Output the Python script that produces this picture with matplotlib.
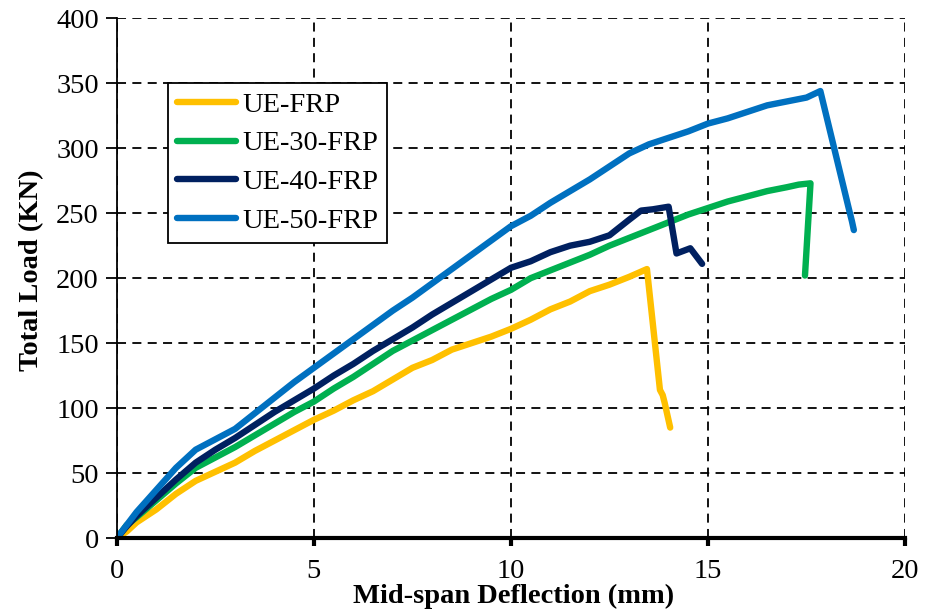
import matplotlib
matplotlib.use("Agg")
import matplotlib.pyplot as plt

# Mid-span deflection (mm) / total load (kN)
ue_frp_x = [0, 0.25, 0.5, 0.75, 1, 1.5, 2, 2.5, 3, 3.5, 4, 4.5, 5, 5.5, 6, 6.5, 7, 7.5, 8, 8.5,
            9, 9.5, 10, 10.5, 11, 11.5, 12, 12.5, 13, 13.3, 13.45, 13.78, 13.85, 13.9, 14.04]
ue_frp_y = [0, 5, 12, 17, 22, 34, 44, 51, 58, 67, 75, 83, 91, 98, 106, 113, 122, 131, 137, 145,
            150, 155, 161, 168, 176, 182, 190, 195, 201, 205, 207, 114, 110, 104, 85]

ue30_x = [0, 0.25, 0.5, 1, 1.5, 2, 2.5, 3, 3.5, 4, 4.5, 5, 5.5, 6, 6.5, 7, 7.5, 8, 8.5, 9,
          9.5, 10, 10.5, 11, 11.5, 12, 12.5, 13, 13.5, 14, 14.5, 15, 15.5, 16, 16.5, 17, 17.3,
          17.6, 17.46]
ue30_y = [0, 10, 16, 29, 42, 54, 62, 70, 79, 88, 97, 105, 115, 124, 134, 144, 152, 160, 168, 176,
          184, 191, 200, 206, 212, 218, 225, 231, 237, 243, 249, 254, 259, 263, 267, 270, 272,
          273, 202]

ue40_x = [0, 0.25, 0.5, 1, 1.5, 2, 2.5, 3, 3.5, 4, 4.5, 5, 5.5, 6, 6.5, 7, 7.5, 8, 8.5, 9,
          9.5, 10, 10.5, 11, 11.5, 12, 12.5, 13, 13.3, 13.6, 14.0, 14.2, 14.55, 14.85]
ue40_y = [0, 9, 17, 31, 45, 58, 68, 77, 87, 97, 106, 115, 125, 134, 144, 153, 162, 172, 181, 190,
          199, 208, 213, 220, 225, 228, 233, 245, 252, 253, 255, 219, 223, 211]

ue50_x = [0, 0.25, 0.5, 1, 1.5, 2, 2.5, 3, 3.5, 4, 4.5, 5, 5.5, 6, 6.5, 7, 7.5, 8, 8.5, 9,
          9.5, 10, 10.5, 11, 11.5, 12, 12.5, 13, 13.5, 14, 14.5, 15, 15.5, 16, 16.5, 17, 17.5,
          17.85, 18.6, 18.65, 18.7]
ue50_y = [0, 10, 20, 37, 54, 68, 76, 84, 96, 108, 120, 131, 142, 153, 164, 175, 185, 196, 207, 218,
          229, 240, 248, 258, 267, 276, 286, 296, 303, 308, 313, 319, 323, 328, 333, 336, 339,
          344, 250, 244, 237]

series = [
    ("UE-FRP", ue_frp_x, ue_frp_y, "#FFC000"),
    ("UE-30-FRP", ue30_x, ue30_y, "#00B050"),
    ("UE-40-FRP", ue40_x, ue40_y, "#002060"),
    ("UE-50-FRP", ue50_x, ue50_y, "#0070C0"),
]

plt.rcParams['font.family'] = ['Liberation Serif', 'DejaVu Serif']

fig = plt.figure(figsize=(9.35, 6.1), dpi=100)
ax = fig.add_axes([0.125, 0.118, 0.843, 0.852])

for name, xs, ys, col in series:
    ax.plot(xs, ys, color=col, lw=4.6, label=name,
            solid_capstyle='round', solid_joinstyle='round')

ax.set_xlim(0, 20)
ax.set_ylim(0, 400)
ax.set_xticks(range(0, 21, 5))
ax.set_yticks(range(0, 401, 50))

ax.grid(True, color='black', linestyle=(0, (5, 3.5)), linewidth=1.3)
ax.set_axisbelow(True)

for s in ['top', 'right']:
    ax.spines[s].set_visible(False)
ax.spines['left'].set_linewidth(1.3)
ax.spines['bottom'].set_linewidth(3)

ax.tick_params(axis='y', direction='out', length=8, width=1.3, labelsize=20.5, pad=5)
ax.tick_params(axis='x', direction='out', length=6, width=3, labelsize=20.5, pad=9)

ax.set_xlabel("Mid-span Deflection (mm)", fontsize=20.5, fontweight='bold')
ax.xaxis.set_label_coords(0.503, -0.088)
ax.set_ylabel("Total Load (KN)", fontsize=20.5, fontweight='bold')
ax.yaxis.set_label_coords(-0.092, 0.515)

leg = ax.legend(loc='upper left', bbox_to_anchor=(0.065, 0.875), fontsize=20.5,
                frameon=True, fancybox=False, framealpha=1, edgecolor='black',
                handlelength=2.1, handletextpad=0.2, labelspacing=0.45,
                borderpad=0.3, borderaxespad=0)
leg.get_frame().set_linewidth(1.3)

fig.savefig("out.png", dpi=100)
